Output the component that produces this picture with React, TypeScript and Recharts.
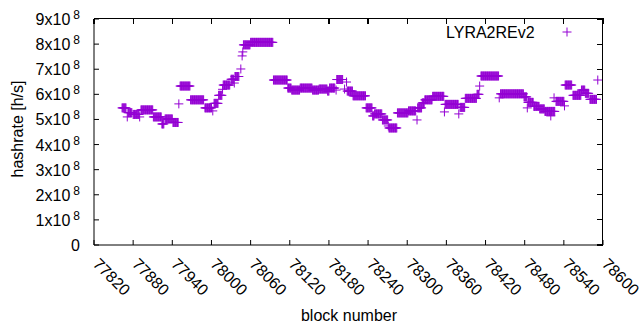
import React from 'react';
import { ScatterChart, Scatter, XAxis, YAxis } from 'recharts';

// plateaus: first block, last block, hashrate [h/s]
const runStart = [
  77863, 77871, 77872, 77880, 77890, 77892, 77911, 77924, 77929, 77941,
  77950, 77952, 77968, 77990, 78002, 78004, 78011, 78017, 78018, 78030,
  78035, 78036, 78045, 78047, 78048, 78049, 78060, 78095, 78117, 78123,
  78136, 78155, 78165, 78178, 78181, 78191, 78192, 78204, 78207, 78208,
  78217, 78237, 78247, 78250, 78262, 78271, 78272, 78285, 78302, 78315,
  78316, 78323, 78327, 78339, 78357, 78358, 78379, 78381, 78389, 78407,
  78411, 78413, 78441, 78443, 78479, 78484, 78485, 78494, 78503, 78511,
  78520, 78525, 78528, 78541, 78542, 78554, 78567, 78573, 78580, 78592,
];
const runEnd = [
  77869, 77871, 77878, 77889, 77890, 77910, 77923, 77927, 77940, 77949,
  77950, 77967, 77988, 78000, 78002, 78010, 78016, 78017, 78028, 78034,
  78035, 78042, 78045, 78047, 78048, 78059, 78094, 78116, 78122, 78135,
  78154, 78164, 78177, 78180, 78189, 78191, 78201, 78204, 78207, 78216,
  78236, 78246, 78249, 78261, 78270, 78271, 78284, 78301, 78313, 78315,
  78322, 78326, 78338, 78356, 78357, 78378, 78379, 78388, 78406, 78410,
  78411, 78440, 78441, 78478, 78483, 78484, 78493, 78502, 78510, 78526,
  78520, 78525, 78540, 78541, 78552, 78566, 78572, 78578, 78590, 78592,
];
const runHashrate = [
  5.46e8, 5.1e8, 5.27e8, 5.2e8, 5.1e8, 5.38e8, 5.1e8, 4.82e8, 5.02e8, 4.88e8,
  5.62e8, 6.33e8, 5.78e8, 5.46e8, 5.34e8, 5.64e8, 5.96e8, 6.2e8, 6.37e8, 6.6e8,
  6.45e8, 6.71e8, 7.01e8, 7.53e8, 7.69e8, 7.97e8, 8.07e8, 6.57e8, 6.25e8, 6.17e8,
  6.25e8, 6.17e8, 6.21e8, 6.13e8, 6.25e8, 6.17e8, 6.59e8, 6.21e8, 6.49e8, 6.13e8,
  5.94e8, 5.46e8, 5.14e8, 5.22e8, 4.98e8, 4.74e8, 4.66e8, 5.26e8, 5.34e8, 4.98e8,
  5.46e8, 5.66e8, 5.78e8, 5.92e8, 5.3e8, 5.6e8, 5.22e8, 5.48e8, 5.84e8, 6.0e8,
  6.33e8, 6.73e8, 5.86e8, 6.02e8, 5.9e8, 5.46e8, 5.68e8, 5.52e8, 5.42e8, 5.32e8,
  5.14e8, 5.86e8, 5.72e8, 5.54e8, 6.37e8, 5.96e8, 6.17e8, 6.04e8, 5.8e8, 6.57e8,
];

const xTicks = [
  77820, 77880, 77940, 78000, 78060, 78120, 78180, 78240, 78300, 78360, 78420,
  78480, 78540, 78600,
];
const yTicks = [0, 1e8, 2e8, 3e8, 4e8, 5e8, 6e8, 7e8, 8e8, 9e8];
const seriesName = 'LYRA2REv2';

const COLOR = '#9400d3';
const FONT = '"Liberation Sans", Arial, sans-serif';
const X_DOMAIN: [number, number] = [77820, 78600];
const Y_DOMAIN: [number, number] = [0, 9e8];

// plot box in page pixels
const W = 640;
const H = 330;
const LEFT = 94;
const RIGHT = 603;
const TOP = 19;
const BOTTOM = 245;

// one point per block
const points: { block: number; hashrate: number }[] = [];
runStart.forEach((start, i) => {
  for (let b = start; b <= runEnd[i]; b++) {
    points.push({ block: b, hashrate: runHashrate[i] });
  }
});

const Plus = ({ cx, cy }: any) => (
  <path
    d={`M${cx - 4.5},${cy}h9M${cx},${cy - 4.5}v9`}
    stroke={COLOR}
    strokeWidth={1}
    fill="none"
  />
);

const YTick = ({ y, payload }: any) => {
  const n = Math.round(payload.value / 1e8);
  if (n === 0) {
    return (
      <text x={80} y={y} dy={6} textAnchor="end" fontSize={16} fontFamily={FONT} fill="#000">
        0
      </text>
    );
  }
  return (
    <text x={80} y={y} dy={6} textAnchor="end" fontSize={16} fontFamily={FONT} fill="#000">
      <tspan>{`${n}x10`}</tspan>
      <tspan dx={3} dy={-6} fontSize={12}>
        8
      </tspan>
    </text>
  );
};

const XTick = ({ x, y, payload }: any) => {
  const tx = x - 2;
  const ty = y + 25;
  return (
    <text
      x={tx}
      y={ty}
      transform={`rotate(45 ${tx} ${ty})`}
      textAnchor="start"
      fontSize={16}
      fontFamily={FONT}
      fill="#000"
    >
      {payload.value}
    </text>
  );
};

// top/right half of the gnuplot border, ticks mirrored inward
const xPix = (v: number) => LEFT + ((v - X_DOMAIN[0]) / (X_DOMAIN[1] - X_DOMAIN[0])) * (RIGHT - LEFT);
const yPix = (v: number) => BOTTOM - ((v - Y_DOMAIN[0]) / (Y_DOMAIN[1] - Y_DOMAIN[0])) * (BOTTOM - TOP);

const Frame = () => (
  <g stroke="#000000" strokeWidth={1.2} fill="none" shapeRendering="crispEdges">
    <line x1={LEFT} x2={RIGHT + 0.5} y1={TOP - 0.5} y2={TOP - 0.5} />
    <line x1={RIGHT - 0.5} x2={RIGHT - 0.5} y1={TOP - 0.5} y2={BOTTOM + 0.5} />
    {xTicks.map((t) => (
      <line key={`xt${t}`} x1={xPix(t)} x2={xPix(t)} y1={TOP} y2={TOP + 5} />
    ))}
    {yTicks.map((t) => (
      <line key={`yt${t}`} x1={RIGHT} x2={RIGHT - 6} y1={yPix(t)} y2={yPix(t)} />
    ))}
  </g>
);

export default function App() {
  return (
    <div style={{ position: 'absolute', left: 0, top: 0, width: W, height: H, background: '#fff' }}>
      <ScatterChart
        width={W}
        height={H}
        margin={{ top: TOP, right: W - RIGHT, left: 0, bottom: 0 }}
      >
        <XAxis
          type="number"
          dataKey="block"
          domain={X_DOMAIN}
          ticks={xTicks}
          interval={0}
          height={H - BOTTOM}
          stroke="#000"
          tickSize={-5}
          tickMargin={0}
          tick={<XTick />}
        />
        <YAxis
          type="number"
          dataKey="hashrate"
          domain={Y_DOMAIN}
          ticks={yTicks}
          interval={0}
          width={LEFT}
          stroke="#000"
          tickSize={-5}
          tick={<YTick />}
        />
        <Scatter name={seriesName} data={points} shape={<Plus />} isAnimationActive={false} />
      </ScatterChart>
      <svg
        width={W}
        height={H}
        style={{ position: 'absolute', left: 0, top: 0, pointerEvents: 'none', overflow: 'visible' }}
      >
        <Frame />
        <text x={446} y={38} fontSize={16} fontFamily={FONT} fill="#000">
          {seriesName}
        </text>
        <path d="M562.5,32h9M567,27.5v9" stroke={COLOR} strokeWidth={1} fill="none" />
        <text x={349} y={321} textAnchor="middle" fontSize={16} fontFamily={FONT} fill="#000">
          block number
        </text>
        <text
          x={23}
          y={129}
          transform="rotate(-90 23 129)"
          textAnchor="middle"
          fontSize={16}
          fontFamily={FONT}
          fill="#000"
        >
          hashrate [h/s]
        </text>
      </svg>
    </div>
  );
}
